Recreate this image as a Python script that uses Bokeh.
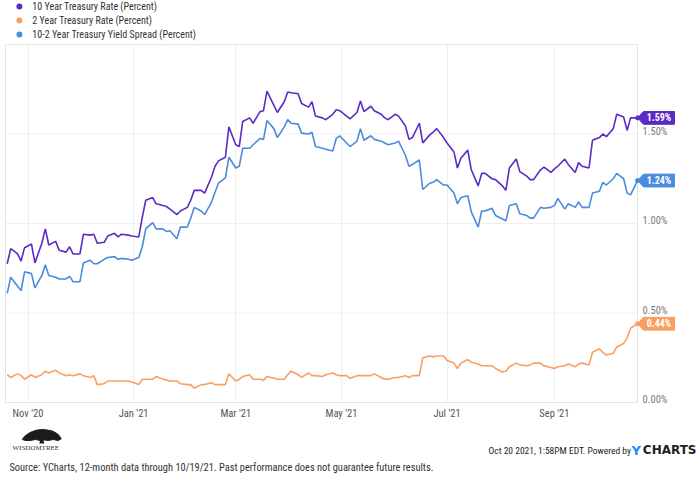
import pandas as pd
from bokeh.plotting import figure
from bokeh.layouts import column
from bokeh.models import Range1d, FixedTicker, DatetimeTickFormatter, ColumnDataSource
from bokeh.core.properties import value
from bokeh.embed import file_html
from bokeh.resources import INLINE

# Daily Treasury series sampled every other trading day, 10/20/20 - 10/19/21 (percent)
rate_10y = [
    0.775, 0.86, 0.83, 0.79, 0.865, 0.885, 0.78, 0.89, 0.97, 0.88,
    0.90, 0.85, 0.84, 0.87, 0.83, 0.83, 0.94, 0.935, 0.94, 0.89,
    0.895, 0.93, 0.945, 0.925, 0.94, 0.935, 0.93, 0.925, 1.035, 1.13,
    1.145, 1.11, 1.10, 1.095, 1.08, 1.05, 1.07, 1.09, 1.13, 1.185,
    1.185, 1.17, 1.26, 1.32, 1.35, 1.37, 1.54, 1.44, 1.43, 1.57,
    1.59, 1.56, 1.625, 1.63, 1.74, 1.66, 1.62, 1.68, 1.735, 1.73,
    1.725, 1.67, 1.65, 1.68, 1.60, 1.59, 1.58, 1.61, 1.635, 1.63,
    1.60, 1.585, 1.62, 1.685, 1.625, 1.655, 1.63, 1.61, 1.59, 1.58,
    1.61, 1.60, 1.545, 1.47, 1.48, 1.56, 1.45, 1.495, 1.51, 1.53,
    1.48, 1.45, 1.40, 1.31, 1.365, 1.41, 1.30, 1.21, 1.28, 1.28,
    1.25, 1.245, 1.21, 1.185, 1.31, 1.36, 1.29, 1.265, 1.245, 1.245,
    1.30, 1.315, 1.285, 1.305, 1.32, 1.36, 1.33, 1.285, 1.34, 1.32,
    1.31, 1.465, 1.48, 1.50, 1.485, 1.53, 1.61, 1.595, 1.52, 1.59,
    1.59,
]
rate_2y = [
    0.155, 0.14, 0.16, 0.15, 0.13, 0.155, 0.14, 0.155, 0.175, 0.165,
    0.18, 0.165, 0.15, 0.155, 0.15, 0.16, 0.15, 0.14, 0.15, 0.10,
    0.105, 0.12, 0.12, 0.12, 0.12, 0.12, 0.115, 0.10, 0.13, 0.13,
    0.13, 0.145, 0.13, 0.125, 0.12, 0.12, 0.105, 0.10, 0.10, 0.08,
    0.10, 0.10, 0.11, 0.10, 0.10, 0.10, 0.16, 0.12, 0.13, 0.145,
    0.155, 0.13, 0.13, 0.125, 0.145, 0.135, 0.13, 0.13, 0.155, 0.175,
    0.155, 0.14, 0.165, 0.15, 0.15, 0.145, 0.155, 0.165, 0.155, 0.15,
    0.15, 0.135, 0.15, 0.15, 0.15, 0.15, 0.16, 0.14, 0.13, 0.13,
    0.14, 0.14, 0.15, 0.14, 0.15, 0.15, 0.25, 0.26, 0.255, 0.26,
    0.26, 0.235, 0.22, 0.19, 0.22, 0.24, 0.225, 0.215, 0.205, 0.205,
    0.205, 0.19, 0.17, 0.175, 0.20, 0.22, 0.21, 0.205, 0.21, 0.22,
    0.22, 0.205, 0.195, 0.19, 0.20, 0.205, 0.215, 0.20, 0.215, 0.22,
    0.21, 0.28, 0.30, 0.28, 0.265, 0.275, 0.31, 0.33, 0.36, 0.415,
    0.44,
]
spread_10_2 = [
    0.61, 0.70, 0.65, 0.625, 0.73, 0.72, 0.64, 0.71, 0.77, 0.71,
    0.70, 0.69, 0.69, 0.705, 0.675, 0.675, 0.78, 0.795, 0.775, 0.775,
    0.80, 0.81, 0.815, 0.80, 0.805, 0.80, 0.795, 0.81, 0.87, 0.97,
    1.005, 0.97, 0.97, 0.955, 0.96, 0.915, 0.98, 0.98, 1.03, 1.09,
    1.07, 1.05, 1.12, 1.175, 1.225, 1.255, 1.37, 1.31, 1.32, 1.42,
    1.42, 1.44, 1.475, 1.47, 1.575, 1.53, 1.48, 1.54, 1.58, 1.56,
    1.555, 1.505, 1.50, 1.51, 1.43, 1.42, 1.415, 1.405, 1.475, 1.49,
    1.45, 1.43, 1.46, 1.53, 1.465, 1.49, 1.47, 1.46, 1.45, 1.44,
    1.45, 1.46, 1.38, 1.32, 1.33, 1.355, 1.19, 1.225, 1.23, 1.245,
    1.215, 1.215, 1.17, 1.11, 1.145, 1.155, 1.065, 0.98, 1.07, 1.07,
    1.085, 1.045, 1.025, 1.015, 1.10, 1.11, 1.055, 1.045, 1.03, 1.03,
    1.09, 1.085, 1.09, 1.10, 1.14, 1.08, 1.11, 1.09, 1.12, 1.09,
    1.09, 1.17, 1.18, 1.23, 1.215, 1.25, 1.28, 1.25, 1.17, 1.16,
    1.24,
]

series_names = ["10 Year Treasury Rate (Percent)",
                "2 Year Treasury Rate (Percent)",
                "10-2 Year Treasury Yield Spread (Percent)"]
series_colors = ["#5a2bc6", "#fb9f60", "#4a8bdd"]
y_ticks = [0.0, 0.5, 1.0, 1.5]
x_tick_dates = ["2020-11-01", "2021-01-01", "2021-03-01",
                "2021-05-01", "2021-07-01", "2021-09-01"]
period_start, period_end = "2020-10-19", "2021-10-19"

weekdays = pd.bdate_range(period_start, period_end)
dates = weekdays[::-1][::2][::-1]
src = ColumnDataSource(dict(date=dates, r10=rate_10y, r2=rate_2y, sp=spread_10_2))

NARROW = "'Roboto Condensed', 'Liberation Sans Narrow', Roboto"
W = 700
HEAD_H, MAIN_FRAME_H, AXIS_H, FOOT_H = 43, 360, 22, 53
DATA_W, DATA_H = 632, 358          # pixel span of the 12-month window and of 0..2%
Y_MAX = 2.0

t0 = pd.Timestamp(period_start).value / 1e6
t1 = pd.Timestamp(period_end).value / 1e6
ms_px = (t1 - t0) / DATA_W
v_px = Y_MAX / DATA_H


def blank(height, y0, y1):
    f = figure(width=W, height=height, output_backend="svg", toolbar_location=None,
               x_range=Range1d(0, W), y_range=Range1d(y0, y1),
               x_axis_location=None, y_axis_location=None, min_border=0)
    f.outline_line_color = None
    f.grid.visible = False
    return f


# ---- legend strip ----
head = blank(HEAD_H, HEAD_H, 0)
leg_y = [6, 20, 34]
head.scatter(x=[15] * 3, y=leg_y, size=6, color=series_colors, line_color=None)
head.text(x=[28] * 3, y=leg_y, text=series_names, text_color="#333333",
          text_font=value(NARROW), text_font_size="10px",
          text_align="left", text_baseline="middle")

# ---- chart ----
p = figure(width=W, height=MAIN_FRAME_H + AXIS_H, output_backend="svg",
           toolbar_location=None, x_axis_type="datetime", y_axis_location=None,
           x_range=Range1d(t0 - ms_px, t0 + (W - 4 - 1) * ms_px),
           y_range=Range1d(-v_px, Y_MAX + v_px),
           min_border_left=4, min_border_right=0, min_border_top=0,
           min_border_bottom=AXIS_H)
p.outline_line_color = None
p.ygrid.visible = False

xt = [pd.Timestamp(d).value / 1e6 for d in x_tick_dates]
p.xaxis.ticker = FixedTicker(ticks=xt)
p.xaxis.formatter = DatetimeTickFormatter(months="%b '%y", days="%b '%y",
                                          years="%b '%y", hours="%b '%y")
p.xaxis.axis_line_color = None
p.xaxis.major_tick_line_color = None
p.xaxis.minor_tick_line_color = None
p.xaxis.major_tick_out = 0
p.xaxis.major_tick_in = 0
p.xaxis.major_label_standoff = 3
p.xaxis.major_label_text_font = NARROW
p.xaxis.major_label_text_font_size = "10.5px"
p.xaxis.major_label_text_color = "#555555"
p.xgrid.grid_line_color = "#efefef"

# horizontal grid and the plot box, both stopping at the last date
p.multi_line(xs=[[t0, t1] for _ in y_ticks[1:]], ys=[[v, v] for v in y_ticks[1:]],
             line_color="#efefef", line_width=1)
p.line(x=[t0, t1, t1, t0, t0], y=[0, 0, Y_MAX, Y_MAX, 0], line_color="#e4e4e4", line_width=1)

cols = ["r10", "r2", "sp"]
values = [rate_10y, rate_2y, spread_10_2]
for col, color in zip(cols, series_colors):
    p.line(x="date", y=col, source=src, line_color=color, line_width=1.6)
p.scatter(x=[dates[-1]] * 3, y=[v[-1] for v in values], size=4, color=series_colors)

# right-hand value scale
p.text(x=[t1] * len(y_ticks), y=y_ticks, text=[f"{v:.2f}%" for v in y_ticks],
       x_offset=5, y_offset=-3, text_color="#7a7a7a", text_font=value(NARROW),
       text_font_size="10.5px", text_align="left", text_baseline="middle")

# latest-value tags
h = 6.4 * v_px
tag_xs, tag_ys = [], []
for v in values:
    last = v[-1]
    tag_xs.append([t1, t1 + 6 * ms_px, t1 + 37 * ms_px, t1 + 37 * ms_px, t1 + 6 * ms_px])
    tag_ys.append([last, last + h, last + h, last - h, last - h])
p.patches(xs=tag_xs, ys=tag_ys, fill_color=series_colors, line_color=series_colors)
p.text(x=[t1] * 3, y=[v[-1] for v in values], text=[f"{v[-1]:.2f}%" for v in values],
       x_offset=21.5, text_color="white", text_font=value(NARROW),
       text_font_style="bold", text_font_size="10px",
       text_align="center", text_baseline="middle")

# ---- footer ----
foot_top = HEAD_H + MAIN_FRAME_H + AXIS_H
foot = blank(FOOT_H, 478, foot_top)
canopy_x = [18, 20, 24, 28, 33, 38, 43, 48, 52, 55, 57, 54, 49, 44, 40, 36, 31, 26, 21]
canopy_y = [439, 436, 433, 431, 429.5, 429, 429.5, 430.5, 432.5, 435, 438.5, 440, 439,
            440, 439.5, 440, 439, 440, 440]
foot.patch(x=canopy_x, y=canopy_y, fill_color="#1c1c1c", line_color="#1c1c1c")
foot.patch(x=[36, 39, 40, 35], y=[439, 439, 443, 443], fill_color="#1c1c1c", line_color=None)
foot.text(x=[8], y=[447], text=["WISDOMTREE"], text_color="#333333",
          text_font=value("Liberation Serif"), text_font_size="7px",
          text_align="left", text_baseline="middle")
foot.text(x=[630], y=[449.5], text=["Oct 20 2021, 1:58PM EDT. Powered by"],
          text_color="#222222", text_font=value(NARROW), text_font_size="9.5px",
          text_align="right", text_baseline="middle")
foot.text(x=[630.5], y=[449.5], text=["Y"], text_color="#1a8cff",
          text_font=value("DejaVu Sans"), text_font_style="bold", text_font_size="13px",
          text_align="left", text_baseline="middle")
foot.text(x=[642], y=[449.5], text=["CHARTS"], text_color="#1f1f1f",
          text_font=value("DejaVu Sans"), text_font_style="bold", text_font_size="12px",
          text_align="left", text_baseline="middle")
foot.text(x=[5], y=[467], text=["Source: YCharts, 12-month data through 10/19/21. "
                                "Past performance does not guarantee future results."],
          text_color="#333333", text_font=value(NARROW), text_font_size="10.4px",
          text_align="left", text_baseline="middle")

layout = column(head, p, foot, spacing=0)
open("out.html", "w").write(file_html(layout, INLINE))
